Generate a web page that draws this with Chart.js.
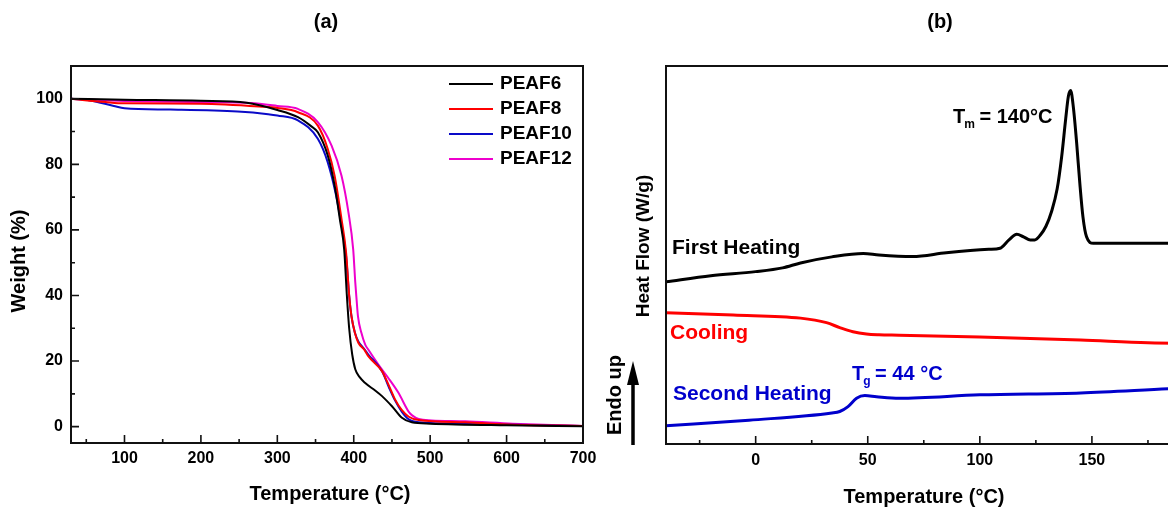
<!DOCTYPE html>
<html>
<head>
<meta charset="utf-8">
<script src="https://cdn.jsdelivr.net/npm/chart.js@4.4.0/dist/chart.umd.min.js"></script>
<style>
  html, body { margin: 0; padding: 0; background: #fff; overflow: hidden; }
  #wrapA { position: absolute; left: 0; top: 0; width: 600px; height: 508px; }
  #wrapB { position: absolute; left: 600px; top: 0; width: 614px; height: 508px; }
</style>
</head>
<body>
<div id="wrapA"><canvas id="tgaChart"></canvas></div>
<div id="wrapB"><canvas id="dscChart"></canvas></div>
<script>
// (a) TGA curves, temperature (C) vs weight (%)
const peaf6Temp = [30, 100, 200, 260, 300, 327, 345, 353, 366, 375, 382, 387.5, 391, 394, 398, 402, 408, 415, 428, 437, 450, 463, 476, 500, 600, 700];
const peaf6Weight = [100, 99.7, 99.4, 98.8, 96.6, 94.4, 91.5, 89.8, 82.7, 73.5, 63, 54, 40, 30, 22, 17.5, 15, 13.3, 11, 9.3, 6.2, 2.7, 1.3, 0.9, 0.4, 0.1];

const peaf8Temp = [30, 75, 100, 200, 280, 300, 327, 353, 366, 375, 384, 390, 394, 397, 401.5, 406, 414, 419, 437, 446, 454, 463, 472, 485, 546, 608, 700];
const peaf8Weight = [100, 99, 98.6, 98.5, 97.6, 97.2, 95.9, 91.8, 84.7, 76.5, 63.3, 53, 40, 33.7, 28.6, 25.6, 23.4, 21.5, 16.9, 12.5, 8.3, 5, 3, 2, 1.3, 0.6, 0.2];

const peaf10Temp = [30, 55, 86, 100, 160, 248, 288, 300, 327, 353, 366, 377, 384, 390, 394, 397, 401.5, 406, 414, 419, 437, 446, 454, 463, 472, 485, 550, 700];
const peaf10Weight = [100, 99.5, 97.8, 97.1, 96.7, 96.1, 95.3, 94.9, 93.4, 87.8, 80.6, 70.4, 61.3, 52, 40, 33.7, 28.6, 26, 23.6, 22, 16.9, 12, 8, 4.5, 2.2, 1.3, 0.8, 0.2];

const peaf12Temp = [30, 100, 200, 265, 300, 327, 353, 371, 384, 393, 399.3, 402, 403.7, 405.5, 410, 415, 419, 432, 445, 458.5, 472, 476, 485, 502, 546, 608, 700];
const peaf12Weight = [100, 99.3, 99, 98.7, 97.8, 96.9, 92.9, 85.7, 76.5, 65.4, 54, 44, 38.8, 33.7, 28.6, 25, 23.5, 19, 14.9, 10.3, 4.5, 3.5, 2.3, 1.9, 1.6, 0.9, 0.2];

const tgaSeriesNames = ["PEAF6", "PEAF8", "PEAF10", "PEAF12"];
const tgaXTicks = [100, 200, 300, 400, 500, 600, 700];
const tgaXMinor = [50, 150, 250, 350, 450, 550, 650];
const tgaYTicks = [0, 20, 40, 60, 80, 100];
const tgaYMinor = [10, 30, 50, 70, 90];

// (b) DSC curves, temperature (C) vs heat flow (arbitrary, offset traces)
const firstHeatTemp = [-40, -20, 0, 12, 20, 34, 48, 55, 70, 85, 104, 109, 113, 116.5, 119.5, 122.5, 124.5, 127, 129.5, 132, 134.5, 136.5, 138.3, 139.5, 140.5, 141.7, 143.2, 144.6, 146, 147.6, 150.6, 184, 200];
const firstHeatFlow = [42.9, 44.5, 45.6, 46.6, 47.9, 49.5, 50.4, 50.0, 49.6, 50.6, 51.5, 51.8, 54.0, 55.5, 54.8, 54.0, 54.0, 55.3, 57.6, 61.5, 67.5, 76, 86, 92, 93.5, 89.2, 79.6, 69, 60.1, 54.8, 53.1, 53.1, 53.2];

const coolingTemp = [-40, -10, 20, 31.6, 37.5, 43.4, 49.4, 55, 64, 100, 145, 175, 200];
const coolingFlow = [34.7, 34.1, 33.3, 32.1, 30.8, 29.7, 29.1, 28.9, 28.8, 28.3, 27.5, 26.8, 26.6];

const secondHeatTemp = [-40, -3, 34, 37.5, 41.2, 45, 48.7, 53.9, 64, 100, 145, 184, 200];
const secondHeatFlow = [4.8, 6.3, 8.2, 8.6, 9.9, 12.1, 12.8, 12.5, 12.1, 13.0, 13.5, 14.6, 15.0];

const dscXTicks = [0, 50, 100, 150, 200];
const dscXMinor = [-25, 25, 75, 125, 175];

const FONT = '"Liberation Sans", Arial, Helvetica, sans-serif';

function pts(xs, ys) {
  return xs.map((x, i) => ({ x: x, y: ys[i] }));
}

function drawText(ctx, str, x, y, size, color, align, rot) {
  ctx.save();
  ctx.font = "bold " + size + "px " + FONT;
  ctx.fillStyle = color || "#000";
  ctx.textAlign = align || "left";
  ctx.textBaseline = "middle";
  ctx.translate(x, y);
  if (rot) ctx.rotate(rot);
  ctx.fillText(str, 0, 0);
  ctx.restore();
}

// T with subscript, then the rest of the label
function drawSubLabel(ctx, main, sub, rest, x, y, size, color) {
  ctx.save();
  ctx.fillStyle = color;
  ctx.textBaseline = "middle";
  ctx.font = "bold " + size + "px " + FONT;
  ctx.fillText(main, x, y);
  let w = ctx.measureText(main).width;
  ctx.font = "bold " + Math.round(size * 0.62) + "px " + FONT;
  ctx.fillText(sub, x + w - 1, y + 8);
  w += ctx.measureText(sub).width;
  ctx.font = "bold " + size + "px " + FONT;
  ctx.fillText(rest, x + w - 2, y);
  ctx.restore();
}

// frame around the plot and inward tick marks
const frameTicks = {
  id: "frameTicks",
  afterDraw(chart, args, opts) {
    const { ctx, chartArea: a, scales } = chart;
    ctx.save();
    ctx.strokeStyle = "#111";
    ctx.lineWidth = 2;
    ctx.strokeRect(a.left, a.top, a.right - a.left, a.bottom - a.top);
    ctx.lineWidth = 1.6;
    ctx.beginPath();
    (opts.xMajor || []).forEach(v => {
      const p = scales.x.getPixelForValue(v);
      ctx.moveTo(p, a.bottom); ctx.lineTo(p, a.bottom - 8);
    });
    (opts.xMinor || []).forEach(v => {
      const p = scales.x.getPixelForValue(v);
      ctx.moveTo(p, a.bottom); ctx.lineTo(p, a.bottom - 4);
    });
    (opts.yMajor || []).forEach(v => {
      const p = scales.y.getPixelForValue(v);
      ctx.moveTo(a.left, p); ctx.lineTo(a.left + 8, p);
    });
    (opts.yMinor || []).forEach(v => {
      const p = scales.y.getPixelForValue(v);
      ctx.moveTo(a.left, p); ctx.lineTo(a.left + 4, p);
    });
    ctx.stroke();
    ctx.restore();
  }
};

function fixX(h) {
  return function (s) {
    s.height = h;
    s.paddingLeft = 0; s.paddingRight = 0;
  };
}

const tickFont = { family: FONT, size: 16, weight: "bold" };

// ---------- (a) TGA ----------
const tgaColors = ["#000000", "#ff0000", "#0a0ac8", "#ee00cc"];
const tgaData = [pts(peaf6Temp, peaf6Weight), pts(peaf8Temp, peaf8Weight), pts(peaf10Temp, peaf10Weight), pts(peaf12Temp, peaf12Weight)];

new Chart(document.getElementById("tgaChart"), {
  type: "line",
  data: {
    datasets: tgaSeriesNames.map((name, i) => ({
      label: name,
      data: tgaData[i],
      borderColor: tgaColors[i],
      borderWidth: 2,
      pointRadius: 0,
      cubicInterpolationMode: "monotone",
      fill: false
    }))
  },
  options: {
    responsive: true,
    maintainAspectRatio: false,
    animation: false,
    layout: { padding: { top: 66, right: 17, left: 0, bottom: 0 } },
    plugins: {
      legend: { display: false },
      tooltip: { enabled: false },
      frameTicks: { xMajor: tgaXTicks, xMinor: tgaXMinor, yMajor: tgaYTicks, yMinor: tgaYMinor }
    },
    scales: {
      x: {
        type: "linear", min: 30, max: 700,
        grid: { display: false, drawTicks: false },
        border: { display: false },
        afterBuildTicks: s => { s.ticks = tgaXTicks.map(v => ({ value: v })); },
        afterFit: fixX(65),
        ticks: { font: tickFont, color: "#000", padding: 6, autoSkip: false, maxRotation: 0 }
      },
      y: {
        type: "linear", min: -5, max: 110,
        grid: { display: false, drawTicks: false },
        border: { display: false },
        afterBuildTicks: s => { s.ticks = tgaYTicks.map(v => ({ value: v })); },
        afterFit: s => { s.width = 71; s.paddingTop = 0; s.paddingBottom = 0; },
        ticks: { font: tickFont, color: "#000", padding: 8, autoSkip: false }
      }
    }
  },
  plugins: [frameTicks, {
    id: "tgaText",
    afterDraw(chart) {
      const ctx = chart.ctx;
      drawText(ctx, "(a)", 326, 22, 20, "#000", "center");
      drawText(ctx, "Temperature (°C)", 330, 494, 20, "#000", "center");
      drawText(ctx, "Weight (%)", 19, 261, 20, "#000", "center", -Math.PI / 2);
      // legend
      chart.data.datasets.forEach((ds, i) => {
        const y = 84 + i * 25;
        ctx.save();
        ctx.strokeStyle = ds.borderColor;
        ctx.lineWidth = 2;
        ctx.beginPath(); ctx.moveTo(449, y); ctx.lineTo(493, y); ctx.stroke();
        ctx.restore();
        drawText(ctx, ds.label, 500, y, 19, "#000", "left");
      });
    }
  }]
});

// ---------- (b) DSC ----------
const dscSets = [
  { label: "First Heating", data: pts(firstHeatTemp, firstHeatFlow), color: "#000000" },
  { label: "Cooling", data: pts(coolingTemp, coolingFlow), color: "#ff0000" },
  { label: "Second Heating", data: pts(secondHeatTemp, secondHeatFlow), color: "#0000cc" }
];

new Chart(document.getElementById("dscChart"), {
  type: "line",
  data: {
    datasets: dscSets.map(d => ({
      label: d.label,
      data: d.data,
      borderColor: d.color,
      borderWidth: 3,
      pointRadius: 0,
      cubicInterpolationMode: "monotone",
      fill: false
    }))
  },
  options: {
    responsive: true,
    maintainAspectRatio: false,
    animation: false,
    layout: { padding: { top: 66, right: 10, left: 66, bottom: 0 } },
    plugins: {
      legend: { display: false },
      tooltip: { enabled: false },
      frameTicks: { xMajor: dscXTicks, xMinor: dscXMinor }
    },
    scales: {
      x: {
        type: "linear", min: -40, max: 200,
        grid: { display: false, drawTicks: false },
        border: { display: false },
        afterBuildTicks: s => { s.ticks = dscXTicks.map(v => ({ value: v })); },
        afterFit: fixX(64),
        ticks: { font: tickFont, color: "#000", padding: 7, autoSkip: false, maxRotation: 0 }
      },
      y: { type: "linear", min: 0, max: 100, display: false }
    }
  },
  plugins: [frameTicks, {
    id: "dscText",
    afterDraw(chart) {
      const ctx = chart.ctx;
      const ox = -600;
      drawText(ctx, "(b)", 940 + ox, 22, 20, "#000", "center");
      drawText(ctx, "Temperature (°C)", 924 + ox, 497, 20, "#000", "center");
      drawText(ctx, "Heat Flow (W/g)", 644 + ox, 246, 19, "#000", "center", -Math.PI / 2);
      drawText(ctx, "Endo up", 615 + ox, 395, 20, "#000", "center", -Math.PI / 2);
      // arrow
      ctx.save();
      ctx.strokeStyle = "#000"; ctx.fillStyle = "#000"; ctx.lineWidth = 3.5;
      ctx.beginPath(); ctx.moveTo(633 + ox, 445); ctx.lineTo(633 + ox, 380); ctx.stroke();
      ctx.beginPath();
      ctx.moveTo(633 + ox, 361); ctx.lineTo(627 + ox, 385); ctx.lineTo(639 + ox, 385); ctx.closePath(); ctx.fill();
      ctx.restore();
      drawText(ctx, "First Heating", 672 + ox, 248, 21, "#000");
      drawText(ctx, "Cooling", 670 + ox, 333, 21, "#ff0000");
      drawText(ctx, "Second Heating", 673 + ox, 394, 21, "#0000cc");
      drawSubLabel(ctx, "T", "m", " = 140°C", 953 + ox, 117, 20, "#000");
      drawSubLabel(ctx, "T", "g", " = 44 °C", 852 + ox, 374, 20, "#0000cc");
    }
  }]
});
</script>
</body>
</html>
